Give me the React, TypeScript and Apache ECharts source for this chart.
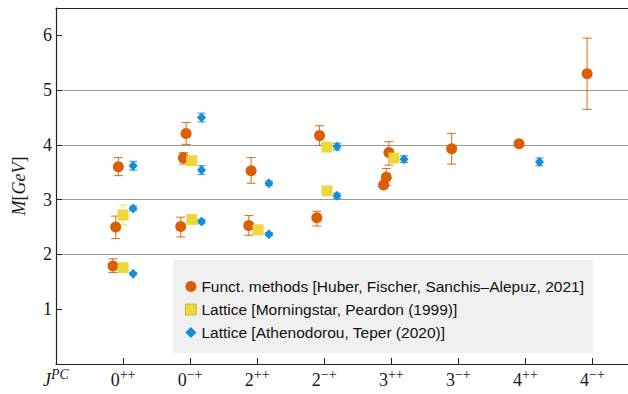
import React, { useEffect, useRef } from "react";
import * as echarts from "echarts";

// J^PC channels along the x axis, in plotting order
const channels = ["0++", "0-+", "2++", "2-+", "3++", "3-+", "4++", "4-+"];

// Functional methods [Huber, Fischer, Sanchis-Alepuz, 2021]
const functChannel = ["0++", "0++", "0++", "0-+", "0-+", "0-+", "2++", "2++", "2-+", "2-+", "3++", "3++", "3++", "3-+", "4++", "4-+"];
const functShift = [-0.15, -0.11, -0.07, -0.14, -0.1, -0.06, -0.125, -0.09, -0.11, -0.07, -0.115, -0.075, -0.035, -0.1, -0.095, -0.08];
const functMass = [1.79, 2.5, 3.6, 2.51, 3.76, 4.21, 2.53, 3.53, 2.67, 4.17, 3.27, 3.41, 3.86, 3.93, 4.02, 5.3];
const functLow = [1.67, 2.29, 3.44, 2.32, 3.65, 4.01, 2.35, 3.3, 2.52, 3.99, 3.23, 3.26, 3.63, 3.65, 3.99, 4.65];
const functHigh = [1.92, 2.7, 3.77, 2.68, 3.86, 4.41, 2.71, 3.77, 2.79, 4.35, 3.31, 3.57, 4.06, 4.21, 4.05, 5.95];

// Lattice [Morningstar, Peardon (1999)]
const mpChannel = ["0++", "0++", "0-+", "0-+", "2++", "2-+", "2-+", "3++"];
const mpShift = [0, 0, 0.025, 0.025, 0.015, 0.04, 0.04, 0.04];
const mpMass = [1.76, 2.72, 2.64, 3.71, 2.45, 3.16, 3.96, 3.76];
const mpErr = [0.05, 0.18, 0.04, 0.06, 0.03, 0.03, 0.04, 0.04];

// Lattice [Athenodorou, Teper (2020)]
const atChannel = ["0++", "0++", "0++", "0-+", "0-+", "0-+", "2++", "2++", "2-+", "2-+", "3++", "4++"];
const atShift = [0.15, 0.15, 0.15, 0.17, 0.17, 0.17, 0.175, 0.175, 0.19, 0.19, 0.19, 0.21];
const atMass = [1.65, 2.84, 3.62, 2.6, 3.54, 4.5, 2.37, 3.3, 3.07, 3.97, 3.74, 3.69];
const atErr = [0.02, 0.04, 0.08, 0.04, 0.08, 0.08, 0.03, 0.04, 0.05, 0.06, 0.06, 0.07];

const legendNames = [
  "Funct. methods [Huber, Fischer, Sanchis\u2013Alepuz, 2021]",
  "Lattice [Morningstar, Peardon (1999)]",
  "Lattice [Athenodorou, Teper (2020)]",
];

const ORANGE = "#d95f02";
const YELLOW = "#ecd83c";
const BLUE = "#138dd8";
const SERIF = "'Liberation Serif', 'Times New Roman', serif";
const SANS = "'Liberation Sans', Arial, sans-serif";

const xOf = (ch: string, shift: number) => channels.indexOf(ch) + shift;

function errorBarSeries(name: string, color: string, cap: number, rows: number[][]) {
  return {
    type: "custom",
    name,
    data: rows,
    encode: { x: 0, y: [1, 2] },
    silent: true,
    renderItem: (_params: any, api: any) => {
      const x = api.value(0);
      const top = api.coord([x, api.value(2)]);
      const bot = api.coord([x, api.value(1)]);
      const style = { stroke: color, lineWidth: 1.1, opacity: 0.85 };
      const h = cap / 2;
      return {
        type: "group",
        children: [
          { type: "line", shape: { x1: top[0], y1: top[1], x2: bot[0], y2: bot[1] }, style },
          { type: "line", shape: { x1: top[0] - h, y1: top[1], x2: top[0] + h, y2: top[1] }, style },
          { type: "line", shape: { x1: bot[0] - h, y1: bot[1], x2: bot[0] + h, y2: bot[1] }, style },
        ],
      };
    },
  };
}

function channelLabel(v: number) {
  if (v === -1) return "{j|J}{js|PC}";
  const ch = channels[v];
  if (!ch) return "";
  const sup = ch.slice(1).replace(/-/g, "\u2212");
  return `{n|${ch[0]}}{s|${sup}}`;
}

export default function App() {
  const ref = useRef<HTMLDivElement>(null);

  useEffect(() => {
    if (!ref.current) return;
    const chart = echarts.init(ref.current, undefined, { renderer: "svg" });

    const functPts = functMass.map((m, i) => [xOf(functChannel[i], functShift[i]), m]);
    const functErr = functMass.map((_, i) => [xOf(functChannel[i], functShift[i]), functLow[i], functHigh[i]]);
    const mpPts = mpMass.map((m, i) => [xOf(mpChannel[i], mpShift[i]), m]);
    const mpErrRows = mpMass.map((m, i) => [xOf(mpChannel[i], mpShift[i]), m - mpErr[i], m + mpErr[i]]);
    const atPts = atMass.map((m, i) => [xOf(atChannel[i], atShift[i]), m]);
    const atErrRows = atMass.map((m, i) => [xOf(atChannel[i], atShift[i]), m - atErr[i], m + atErr[i]]);

    const labelIdx = channels.map((_, i) => i);

    chart.setOption({
      animation: false,
      backgroundColor: "#ffffff",
      grid: { left: 56, right: 0, top: 8, bottom: 30 },
      xAxis: [
        {
          type: "value",
          min: -1,
          max: 7.53,
          interval: 1,
          axisLine: { show: true, onZero: false, lineStyle: { color: "#222", width: 1.2 } },
          axisTick: { show: true, inside: true, length: 6, customValues: labelIdx, lineStyle: { color: "#222" } },
          splitLine: { show: false },
          axisLabel: {
            customValues: [-1, ...labelIdx],
            margin: 3,
            color: "#1a1a1a",
            formatter: (v: number) => channelLabel(v),
            rich: {
              n: { fontFamily: SERIF, fontSize: 18, lineHeight: 22, verticalAlign: "bottom" },
              s: { fontFamily: SERIF, fontSize: 14, lineHeight: 14, verticalAlign: "top" },
              j: { fontFamily: SERIF, fontStyle: "italic", fontSize: 18, lineHeight: 22, verticalAlign: "bottom" },
              js: { fontFamily: SERIF, fontStyle: "italic", fontSize: 14, lineHeight: 14, verticalAlign: "top" },
            },
          },
        },
        {
          type: "value",
          position: "top",
          min: -1,
          max: 7.53,
          axisLine: { show: true, onZero: false, lineStyle: { color: "#222", width: 1.2 } },
          axisTick: { show: false },
          axisLabel: { show: false },
          splitLine: { show: false },
        },
      ],
      yAxis: {
        type: "value",
        min: 0,
        max: 6.5,
        interval: 1,
        name: "{i|M}{r|[}{i|GeV}{r|]}",
        nameLocation: "middle",
        nameRotate: 90,
        nameGap: 28,
        nameTextStyle: {
          color: "#1a1a1a",
          rich: {
            i: { fontFamily: SERIF, fontStyle: "italic", fontSize: 18 },
            r: { fontFamily: SERIF, fontSize: 18 },
          },
        },
        axisLine: { show: true, onZero: false, lineStyle: { color: "#222", width: 1.2 } },
        axisTick: { show: true, inside: true, length: 6, customValues: [1, 2, 3, 4, 5, 6], lineStyle: { color: "#222" } },
        axisLabel: {
          customValues: [1, 2, 3, 4, 5, 6],
          margin: 4,
          color: "#1a1a1a",
          fontFamily: SERIF,
          fontSize: 18,
        },
        splitLine: {
          show: true,
          showMinLine: false,
          showMaxLine: false,
          lineStyle: { color: "#9a9a9a", width: 1 },
        },
      },
      legend: {
        show: true,
        orient: "vertical",
        left: 173,
        top: 260,
        padding: [18, 9, 12, 12],
        itemGap: 6,
        itemWidth: 11,
        itemHeight: 11,
        backgroundColor: "#f0f0f0",
        selectedMode: false,
        textStyle: { fontFamily: SANS, fontSize: 15.5, color: "#111", lineHeight: 17 },
        data: [
          { name: legendNames[0], icon: "circle" },
          { name: legendNames[1], icon: "rect", itemStyle: { borderColor: "#c4ad1e", borderWidth: 0.8 } },
          { name: legendNames[2], icon: "diamond" },
        ],
      },
      series: [
        errorBarSeries("funct-err", ORANGE, 9, functErr),
        {
          type: "scatter",
          name: legendNames[0],
          data: functPts,
          symbol: "circle",
          symbolSize: 11,
          itemStyle: { color: ORANGE, opacity: 1 },
        },
        errorBarSeries("mp-err", YELLOW, 8, mpErrRows),
        {
          type: "scatter",
          name: legendNames[1],
          data: mpPts,
          symbol: "rect",
          symbolSize: 11,
          itemStyle: { color: YELLOW, opacity: 1 },
        },
        errorBarSeries("at-err", BLUE, 8, atErrRows),
        {
          type: "scatter",
          name: legendNames[2],
          data: atPts,
          symbol: "diamond",
          symbolSize: [9, 10],
          itemStyle: { color: BLUE, opacity: 1 },
        },
      ],
    });

    return () => chart.dispose();
  }, []);

  return (
    <div style={{ position: "absolute", left: 0, top: 0, width: 628, height: 394 }}>
      <div ref={ref} style={{ width: 628, height: 394 }} />
    </div>
  );
}
